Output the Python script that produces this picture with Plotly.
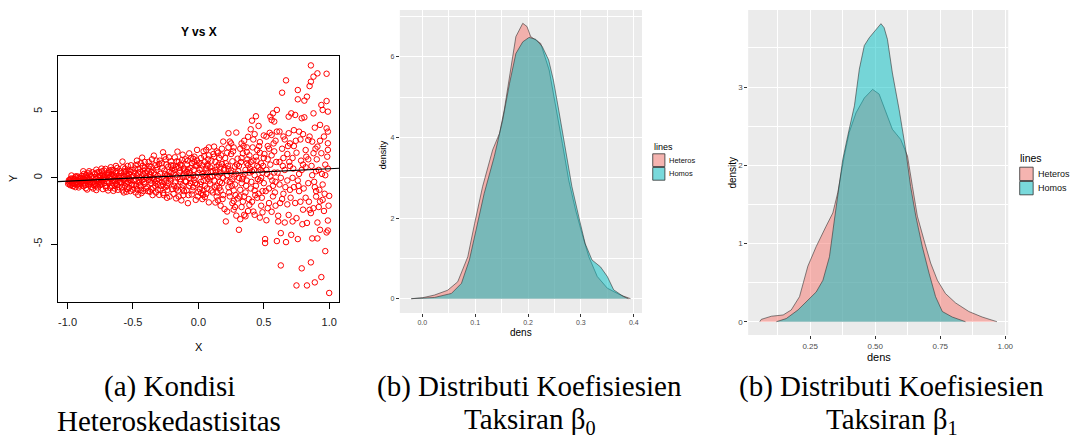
import plotly.graph_objects as go

W, H = 1070, 444

# ---------------- data ----------------
# Panel (a): scatter of Y vs X
xy_points = [
    (-0.99,-0.35),(-0.98,-0.12),(-0.98,-0.55),(-0.97,0.18),(-0.97,-0.28),(-0.96,-0.62),(-0.96,-0.05),(-0.95,-0.40),
    (-0.95,-0.20),(-0.94,0.05),(-0.94,-0.70),(-0.93,-0.33),(-0.93,-0.15),(-0.92,-0.48),(-0.92,0.10),(-0.91,-0.25),
    (-0.91,-0.58),(-0.90,-0.02),(-0.90,-0.38),(-0.99,-0.18),(-0.96,-0.45),(-0.93,-0.52),(-0.91,0.02),(-0.95,-0.08),
    (-0.89,-0.30),(-0.89,0.15),(-0.88,-0.62),(-0.88,0.50),(-0.87,-0.10),(-0.87,-0.42),(-0.86,0.22),(-0.86,-0.78),
    (-0.85,-0.25),(-0.85,0.05),(-0.84,-0.50),(-0.84,0.35),(-0.83,-0.15),(-0.83,-0.35),(-0.82,0.12),(-0.82,-0.68),
    (-0.81,-0.05),(-0.81,0.42),(-0.80,-0.28),(-0.80,-0.55),(-0.88,-0.05),(-0.85,-0.88),(-0.83,0.25),(-0.86,-0.20),
    (-0.81,-0.40),
    (-0.79,0.30),(-0.79,-0.45),(-0.78,-0.10),(-0.78,0.62),(-0.77,-0.72),(-0.77,0.10),(-0.76,-0.30),(-0.76,0.45),
    (-0.75,-0.55),(-0.75,0.00),(-0.74,0.70),(-0.74,-0.20),(-0.73,-0.85),(-0.73,0.25),(-0.72,-0.40),(-0.72,0.55),
    (-0.71,-0.05),(-0.71,-0.62),(-0.70,0.35),(-0.70,-0.25),(-0.78,-0.92),(-0.75,0.20),(-0.72,0.05),(-0.76,-0.15),
    (-0.71,0.68),(-0.74,-0.48),
    (-0.69,-0.95),(-0.69,0.20),(-0.68,0.55),(-0.68,-0.35),(-0.67,-0.10),(-0.67,0.80),(-0.66,-0.60),(-0.66,0.30),
    (-0.65,-0.20),(-0.65,0.60),(-0.64,-0.80),(-0.64,0.05),(-0.63,0.40),(-0.63,-0.45),(-0.62,-0.05),(-0.62,0.75),
    (-0.61,-0.70),(-0.61,0.15),(-0.60,-0.30),(-0.60,0.50),(-0.68,0.00),(-0.65,-0.98),(-0.63,0.90),(-0.61,-0.15),
    (-0.66,0.10),(-0.62,-0.52),
    (-0.58,1.23),(-0.59,-0.40),(-0.59,0.35),(-0.58,-0.95),(-0.57,0.10),(-0.57,-0.15),(-0.56,0.70),(-0.56,-0.60),
    (-0.55,0.25),(-0.55,-1.05),(-0.54,-0.30),(-0.54,0.90),(-0.53,0.00),(-0.53,-0.75),(-0.52,0.45),(-0.52,-0.20),
    (-0.51,-0.50),(-0.51,0.60),(-0.50,0.15),(-0.50,-0.90),(-0.57,0.50),(-0.55,-0.40),(-0.53,0.30),(-0.52,-1.00),
    (-0.56,-0.05),(-0.51,0.05),
    (-0.49,0.40),(-0.49,-0.55),(-0.48,0.95),(-0.48,-0.10),(-0.47,-0.85),(-0.47,0.20),(-0.46,-1.28),(-0.46,0.65),
    (-0.45,-0.35),(-0.45,0.05),(-0.44,1.10),(-0.44,-0.65),(-0.43,-0.20),(-0.43,1.53),(-0.42,0.30),(-0.42,-1.00),
    (-0.41,0.75),(-0.41,-0.45),(-0.40,0.10),(-0.40,-0.80),(-0.48,-1.10),(-0.46,0.35),(-0.44,-0.05),(-0.42,0.55),
    (-0.45,-0.60),(-0.41,1.20),
    (-0.39,0.50),(-0.39,-0.70),(-0.38,-0.15),(-0.38,1.20),(-0.37,-1.05),(-0.37,0.25),(-0.36,0.85),(-0.36,-0.40),
    (-0.35,0.00),(-0.35,-1.30),(-0.34,1.68),(-0.34,0.40),(-0.33,-0.60),(-0.33,0.95),(-0.32,-0.20),(-0.32,0.60),
    (-0.31,-0.90),(-0.31,0.15),(-0.30,-1.28),(-0.30,1.05),(-0.38,0.70),(-0.36,-0.85),(-0.34,-0.10),(-0.32,1.30),
    (-0.37,0.05),(-0.31,-0.45),
    (-0.29,0.30),(-0.29,-0.90),(-0.28,1.10),(-0.28,-0.30),(-0.27,1.93),(-0.27,-1.15),(-0.26,0.55),(-0.26,-0.05),
    (-0.25,-0.70),(-0.25,1.40),(-0.24,0.20),(-0.24,-1.50),(-0.23,0.85),(-0.23,-0.40),(-0.22,-1.41),(-0.22,0.45),
    (-0.21,1.25),(-0.21,-0.20),(-0.20,-0.85),(-0.20,0.70),(-0.28,0.00),(-0.26,1.60),(-0.24,-0.60),(-0.22,0.10),
    (-0.27,-0.50),(-0.21,0.95),
    (-0.19,0.35),(-0.19,-1.20),(-0.18,1.55),(-0.18,-0.35),(-0.17,0.80),(-0.17,-0.80),(-0.16,1.98),(-0.16,0.05),
    (-0.15,-1.41),(-0.15,1.20),(-0.14,-0.10),(-0.14,0.55),(-0.13,-1.70),(-0.13,0.95),(-0.12,-0.55),(-0.12,1.75),
    (-0.11,0.25),(-0.11,-1.00),(-0.10,1.40),(-0.10,-0.25),(-0.18,0.60),(-0.16,-0.65),(-0.14,1.00),(-0.12,0.10),
    (-0.17,-1.55),(-0.11,0.70),
    (-0.09,0.45),(-0.09,-0.95),(-0.08,1.30),(-0.08,-1.91),(-0.07,0.00),(-0.07,1.85),(-0.06,-0.40),(-0.06,0.75),
    (-0.05,-1.25),(-0.05,1.10),(-0.04,0.20),(-0.04,-0.70),(-0.03,1.60),(-0.03,-0.15),(-0.02,-1.66),(-0.02,0.90),
    (-0.01,2.11),(-0.01,-0.50),(0.00,0.35),(0.00,-1.05),(-0.08,0.65),(-0.06,-0.10),(-0.04,1.45),(-0.02,0.10),
    (-0.07,-0.60),(-0.01,1.30),
    (0.01,0.60),(0.01,-0.85),(0.02,1.50),(0.02,-0.30),(0.03,-1.60),(0.03,0.95),(0.04,0.15),(0.04,2.00),
    (0.05,-0.60),(0.05,1.20),(0.06,2.11),(0.06,-1.20),(0.07,0.40),(0.07,-0.05),(0.08,1.70),(0.08,-1.85),
    (0.09,0.80),(0.09,-0.45),(0.10,1.30),(0.10,-0.95),(0.03,0.30),(0.05,-1.45),(0.07,1.00),(0.09,0.05),
    (0.02,-1.15),(0.08,2.30),(0.04,-0.20),(0.06,0.70),
    (0.11,0.50),(0.11,-1.10),(0.12,2.36),(0.12,-0.20),(0.13,-1.86),(0.13,1.20),(0.14,-1.41),(0.14,0.85),
    (0.15,0.10),(0.15,1.90),(0.16,-0.75),(0.16,1.50),(0.17,-2.10),(0.17,0.35),(0.18,2.20),(0.18,-0.40),
    (0.19,2.74),(0.19,-1.30),(0.20,0.70),(0.20,-2.36),(0.12,1.60),(0.14,-0.60),(0.16,0.25),(0.18,1.05),
    (0.15,-1.70),(0.19,0.00),(0.13,0.60),(0.17,-0.95),
    (0.21,-3.29),(0.21,1.10),(0.22,-2.54),(0.22,0.20),(0.23,3.37),(0.23,-0.70),(0.24,2.74),(0.24,-1.40),
    (0.25,0.55),(0.25,1.80),(0.26,-1.91),(0.26,-0.10),(0.27,2.30),(0.27,-0.95),(0.28,0.85),(0.28,-2.20),
    (0.29,3.42),(0.29,0.30),(0.30,-1.55),(0.30,1.45),(0.22,1.90),(0.24,-0.30),(0.26,1.25),(0.28,-0.50),
    (0.23,0.65),(0.27,-1.75),(0.25,2.60),(0.29,-2.85),
    (0.31,-3.92),(0.31,0.90),(0.32,-3.12),(0.32,2.20),(0.33,-0.40),(0.33,1.50),(0.34,0.10),(0.34,-1.80),
    (0.35,-2.79),(0.35,2.80),(0.36,0.60),(0.36,-1.10),(0.37,1.95),(0.37,-0.20),(0.38,-2.50),(0.38,3.10),
    (0.39,-2.04),(0.39,0.40),(0.40,3.67),(0.40,-0.80),(0.33,2.60),(0.35,-1.40),(0.37,1.10),(0.39,1.70),
    (0.32,-0.90),(0.36,-2.90),(0.38,0.95),(0.34,1.85),(0.40,1.20),(0.31,0.00),
    (0.41,4.32),(0.41,0.50),(0.42,-2.54),(0.42,1.30),(0.43,-2.79),(0.43,0.20),(0.44,4.65),(0.44,-0.60),
    (0.45,2.10),(0.45,-1.50),(0.46,3.92),(0.46,0.80),(0.47,-0.20),(0.47,2.70),(0.48,-2.10),(0.48,1.10),
    (0.49,0.40),(0.49,-1.00),(0.50,3.20),(0.50,-0.40),(0.42,2.90),(0.44,1.60),(0.46,-1.20),(0.48,0.00),
    (0.43,-0.95),(0.45,0.90),(0.47,1.90),(0.49,-2.60),(0.41,-1.80),(0.50,1.50),
    (0.51,-4.62),(0.51,-4.92),(0.52,3.12),(0.52,0.60),(0.53,-2.29),(0.53,1.40),(0.54,-0.80),(0.55,4.62),
    (0.55,0.10),(0.56,4.37),(0.56,3.24),(0.56,-2.56),(0.57,4.87),(0.57,-1.40),(0.58,4.25),(0.58,2.00),
    (0.59,-0.30),(0.60,3.49),(0.60,5.13),(0.60,-4.77),(0.53,2.40),(0.54,-1.90),(0.55,1.00),(0.57,-0.60),
    (0.59,2.80),(0.52,-3.20),(0.58,0.40),(0.54,2.20),(0.59,-2.10),(0.56,1.70),
    (0.61,-3.29),(0.61,-2.86),(0.62,1.20),(0.62,-0.50),(0.63,-6.61),(0.63,-4.17),(0.64,6.43),(0.64,2.20),
    (0.65,3.12),(0.65,-1.20),(0.66,-3.37),(0.66,0.60),(0.67,7.36),(0.67,-4.85),(0.68,1.80),(0.68,-2.00),
    (0.69,3.37),(0.69,4.62),(0.70,-0.90),(0.70,2.60),(0.62,3.50),(0.63,0.00),(0.64,-1.60),(0.66,2.90),
    (0.68,-0.20),(0.69,-2.80),(0.70,0.90),(0.65,1.50),
    (0.71,4.87),(0.71,-4.30),(0.72,-3.29),(0.72,1.50),(0.73,-0.70),(0.73,2.40),(0.74,4.75),(0.75,-8.12),
    (0.75,-3.04),(0.76,6.63),(0.76,5.93),(0.76,-4.62),(0.77,3.49),(0.77,0.30),(0.78,-1.80),(0.79,4.50),
    (0.79,-6.83),(0.80,1.00),(0.80,-2.40),(0.72,0.00),(0.74,-1.90),(0.75,1.90),(0.77,-1.00),(0.78,2.90),
    (0.79,0.60),(0.73,3.60),(0.80,3.30),(0.76,-0.20),
    (0.81,5.83),(0.81,4.57),(0.82,0.80),(0.82,-1.50),(0.83,6.13),(0.83,-8.12),(0.84,2.86),(0.84,-0.40),
    (0.85,6.93),(0.85,3.12),(0.85,-2.41),(0.86,8.49),(0.86,7.26),(0.86,-6.38),(0.86,-2.66),(0.87,2.74),
    (0.87,-4.57),(0.88,7.64),(0.88,-2.29),(0.88,1.86),(0.88,4.87),(0.89,3.79),(0.89,-7.89),(0.90,0.50),
    (0.90,-1.00),(0.82,2.10),(0.84,1.40),(0.87,0.20),(0.89,-0.70),(0.83,-3.40),
    (0.90,-1.41),(0.91,7.89),(0.91,-4.57),(0.91,-3.37),(0.91,2.36),(0.93,4.00),(0.93,-3.92),(0.93,-1.78),
    (0.94,-7.49),(0.94,5.50),(0.94,1.86),(0.95,5.13),(0.95,-1.66),(0.96,3.12),(0.97,-5.53),(0.98,5.80),
    (0.98,3.74),(0.98,-4.12),(0.98,7.86),(0.99,2.11),(0.99,-3.97),(0.99,5.00),(0.99,3.49),(0.99,2.61),
    (0.99,-3.22),(1.00,-8.69),(1.00,-1.36),(0.92,0.60),(0.95,-0.50),(0.97,1.00),(0.96,-2.50),(0.93,2.80),
    (0.97,0.20),(0.92,-2.20),(0.99,0.70),
]
# further points filling the dense central band
xy_points_extra = [
    (-0.995,-0.45),(-0.985,-0.25),(-0.975,-0.05),(-0.965,-0.38),(-0.955,-0.60),(-0.945,-0.15),(-0.935,0.12),
    (-0.925,-0.30),(-0.915,-0.72),(-0.905,-0.10),(-0.97,-0.50),(-0.94,-0.42),
    (-0.895,-0.50),(-0.885,-0.20),(-0.875,0.30),(-0.865,-0.55),(-0.855,-0.05),(-0.845,-0.30),(-0.835,0.50),
    (-0.825,-0.45),(-0.815,0.10),(-0.805,-0.80),(-0.87,0.05),(-0.84,-0.10),
    (-0.795,0.05),(-0.785,-0.60),(-0.775,0.40),(-0.765,-0.45),(-0.755,0.15),(-0.745,-0.35),(-0.735,0.50),
    (-0.725,-0.15),(-0.715,0.20),(-0.705,-0.75),(-0.77,-0.25),(-0.73,0.00),
    (-0.695,-0.30),(-0.685,0.35),(-0.675,-0.75),(-0.665,0.60),(-0.655,-0.40),(-0.645,0.20),(-0.635,-0.25),
    (-0.625,0.50),(-0.615,-0.90),(-0.605,0.00),(-0.67,0.15),(-0.64,-0.55),
    (-0.595,0.10),(-0.585,-0.70),(-0.575,0.80),(-0.565,-0.35),(-0.555,0.45),(-0.545,-0.85),(-0.535,0.60),
    (-0.525,-0.10),(-0.515,0.95),(-0.505,-0.55),(-0.57,-1.10),(-0.54,0.15),
    (-0.495,-0.20),(-0.485,0.70),(-0.475,-0.60),(-0.465,1.00),(-0.455,-0.15),(-0.445,0.45),(-0.435,-1.15),
    (-0.425,0.90),(-0.415,-0.30),(-0.405,0.35),(-0.47,1.30),(-0.44,-0.90),
    (-0.395,0.00),(-0.385,-1.00),(-0.375,0.90),(-0.365,-0.20),(-0.355,1.40),(-0.345,-0.75),(-0.335,0.25),
    (-0.325,-1.10),(-0.315,0.80),(-0.305,-0.05),(-0.36,0.45),(-0.33,-0.35),
    (-0.295,1.30),(-0.285,-0.60),(-0.275,0.75),(-0.265,-1.30),(-0.255,0.30),(-0.245,1.00),(-0.235,-0.90),
    (-0.225,1.55),(-0.215,-0.05),(-0.205,0.40),(-0.26,-0.25),(-0.23,0.15),
    (-0.195,0.90),(-0.185,-0.60),(-0.175,0.20),(-0.165,1.25),(-0.155,-0.95),(-0.145,0.40),(-0.135,-0.30),
    (-0.125,1.35),(-0.115,-1.30),(-0.105,0.55),(-0.15,0.75),(-0.12,-0.80),
    (-0.095,-0.30),(-0.085,1.00),(-0.075,-1.30),(-0.065,0.40),(-0.055,1.50),(-0.045,-0.95),(-0.035,0.60),
    (-0.025,-0.40),(-0.015,1.00),(-0.005,-1.40),(-0.06,0.20),(-0.03,1.20),
    (0.005,1.10),(0.015,-0.50),(0.025,0.70),(0.035,-1.30),(0.045,1.65),(0.055,0.20),(0.065,-0.80),
    (0.075,1.40),(0.085,-0.20),(0.095,0.50),(0.04,-0.95),(0.07,0.90),
    (0.105,0.10),(0.115,1.80),(0.125,-0.70),(0.135,0.40),(0.145,-1.10),(0.155,1.00),(0.165,-0.30),
    (0.175,1.70),(0.185,-1.60),(0.195,0.60),(0.14,2.00),(0.17,0.80),
    (0.205,1.50),(0.215,-0.20),(0.225,0.90),(0.235,-1.10),(0.245,0.40),(0.255,-0.60),(0.265,2.00),
    (0.275,0.10),(0.285,-1.30),(0.295,1.00),(0.23,2.30),(0.27,-2.40),
    (0.305,0.50),(0.315,-1.40),(0.325,1.20),(0.335,-0.10),(0.345,2.40),(0.355,0.30),(0.365,-0.60),
    (0.375,1.40),(0.385,-1.60),(0.395,0.70),(0.33,-2.20),(0.37,2.30),
    (0.405,-0.30),(0.415,2.30),(0.425,0.60),(0.435,-1.30),(0.445,1.30),(0.455,-0.10),(0.465,2.40),
    (0.475,0.60),(0.485,-1.50),(0.495,0.90),(0.43,3.30),(0.47,-3.00),
    (0.505,1.80),(0.515,-1.00),(0.525,0.30),(0.545,3.40),(0.565,-0.20),(0.575,2.60),(0.585,-1.10),(0.595,1.20),
    (0.605,0.40),(0.625,-1.90),(0.645,0.90),(0.665,-0.70),(0.685,2.40),(0.695,1.20),
    (0.705,-1.50),(0.725,0.70),(0.745,2.80),(0.765,-0.60),(0.785,1.30),(0.795,-3.50),
    (0.805,-0.80),(0.825,1.60),(0.845,-1.80),(0.865,0.90),(0.885,-0.30),(0.895,2.20),
    (0.905,1.40),(0.925,-0.90),(0.945,0.30),(0.965,-1.20),(0.985,1.60),(0.995,-2.10),
]
scatter_x = [p[0] for p in xy_points + xy_points_extra]
scatter_y = [p[1] for p in xy_points + xy_points_extra]
fit_intercept = 0.22
fit_slope = 0.47

x1_ticks = [-1.0, -0.5, 0.0, 0.5, 1.0]
x1_ticktext = ["-1.0", "-0.5", "0.0", "0.5", "1.0"]
y1_ticks = [-5, 0, 5]
y1_ticktext = ["-5", "0", "5"]

# Panel (b): density of beta0 estimates
b0_het_x = [-0.021, 0.001, 0.023, 0.048, 0.067, 0.086, 0.099, 0.114, 0.133, 0.146, 0.155, 0.168, 0.177, 0.190,
            0.198, 0.205, 0.224, 0.240, 0.252, 0.265, 0.277, 0.290, 0.302, 0.315, 0.331, 0.350, 0.375, 0.394]
b0_het_y = [0, 0.025, 0.09, 0.21, 0.42, 1.04, 1.87, 2.78, 3.69, 4.10, 4.68, 5.75, 6.50, 6.83,
            6.75, 6.50, 6.33, 5.67, 4.84, 3.85, 2.94, 2.20, 1.62, 1.04, 0.55, 0.26, 0.09, 0.0]
b0_hom_x = [-0.021, 0.023, 0.055, 0.074, 0.089, 0.102, 0.117, 0.136, 0.152, 0.165, 0.177, 0.190, 0.202, 0.215,
            0.227, 0.239, 0.248, 0.258, 0.271, 0.283, 0.296, 0.308, 0.321, 0.337, 0.350, 0.362, 0.381, 0.390]
b0_hom_y = [0, 0.03, 0.13, 0.38, 0.96, 1.70, 2.61, 3.52, 4.43, 5.34, 6.08, 6.37, 6.48, 6.43,
            6.25, 5.92, 5.42, 4.68, 3.69, 2.78, 2.03, 1.37, 0.96, 0.79, 0.55, 0.22, 0.05, 0]

# Panel (c): density of beta1 estimates
b1_het_x = [0.056, 0.062, 0.101, 0.146, 0.177, 0.209, 0.241, 0.273, 0.311, 0.337, 0.356, 0.381, 0.400, 0.426,
            0.458, 0.490, 0.515, 0.541, 0.566, 0.598, 0.624, 0.643, 0.662, 0.687, 0.713, 0.739, 0.770, 0.809,
            0.860, 0.911, 0.968]
b1_het_y = [0, 0.03, 0.07, 0.086, 0.15, 0.32, 0.71, 0.96, 1.22, 1.39, 1.65, 2.12, 2.42, 2.67,
            2.86, 2.97, 2.91, 2.67, 2.46, 2.33, 2.12, 1.73, 1.35, 1.05, 0.75, 0.53, 0.36, 0.24,
            0.13, 0.06, 0.0]
b1_hom_x = [0.120, 0.158, 0.203, 0.241, 0.273, 0.299, 0.324, 0.343, 0.360, 0.375, 0.394, 0.420, 0.439, 0.458,
            0.477, 0.503, 0.522, 0.534, 0.547, 0.566, 0.592, 0.617, 0.636, 0.656, 0.681, 0.707, 0.732, 0.758,
            0.796, 0.847]
b1_hom_y = [0, 0.04, 0.15, 0.28, 0.38, 0.53, 0.83, 1.30, 1.73, 2.07, 2.37, 2.76, 3.23, 3.53,
            3.63, 3.74, 3.81, 3.76, 3.61, 3.18, 2.71, 2.20, 1.73, 1.35, 0.96, 0.62, 0.32, 0.13,
            0.06, 0]

legend_title = "lines"
legend_labels = ["Heteros", "Homos"]
captions = [
    ["(a) Kondisi", "Heteroskedastisitas"],
    ["(b) Distributi Koefisiesien", "Taksiran β<sub>0</sub>"],
    ["(b) Distributi Koefisiesien", "Taksiran β<sub>1</sub>"],
]

# ---------------- styling / layout ----------------
RED_FILL = "rgba(248,118,109,0.5)"
TEAL_FILL = "rgba(0,191,196,0.5)"
OUTLINE = "rgba(51,51,51,0.85)"
PANEL_BG = "#EBEBEB"
SANS = "Liberation Sans, Arial, sans-serif"
SERIF = "Liberation Serif, Times New Roman, serif"


def fx(px):
    return px / W


def fy(py):
    return 1 - py / H


x1_range = [-1.075, 1.078]
y1_range = [-9.37, 9.2]

fig = go.Figure()

fig.add_trace(go.Scatter(
    x=scatter_x, y=scatter_y, mode="markers", xaxis="x", yaxis="y",
    marker=dict(symbol="circle-open", size=5.5, color="#FF0000", line=dict(width=1, color="#FF0000")),
    showlegend=False, hoverinfo="skip"))
fig.add_trace(go.Scatter(
    x=x1_range, y=[fit_intercept + fit_slope * v for v in x1_range], mode="lines",
    xaxis="x", yaxis="y", line=dict(color="black", width=1.2), showlegend=False, hoverinfo="skip"))

for xs, ys, fc, ax, ay in [
    (b0_het_x, b0_het_y, RED_FILL, "x2", "y2"),
    (b0_hom_x, b0_hom_y, TEAL_FILL, "x2", "y2"),
    (b1_het_x, b1_het_y, RED_FILL, "x3", "y3"),
    (b1_hom_x, b1_hom_y, TEAL_FILL, "x3", "y3"),
]:
    fig.add_trace(go.Scatter(
        x=xs, y=ys, mode="lines", fill="toself", fillcolor=fc, xaxis=ax, yaxis=ay,
        line=dict(color=OUTLINE, width=0.7), showlegend=False, hoverinfo="skip"))

gg_common = dict(showgrid=True, gridcolor="white", gridwidth=1.1, zeroline=False,
                 ticks="outside", ticklen=3, tickwidth=1, tickcolor="#333333",
                 showline=False)

fig.update_layout(
    width=W, height=H, margin=dict(l=0, r=0, t=0, b=0),
    paper_bgcolor="white", plot_bgcolor="white",
    xaxis=dict(domain=[fx(58), fx(341)], range=x1_range, anchor="y",
               tickvals=x1_ticks, ticktext=x1_ticktext, ticks="outside", ticklen=6,
               tickcolor="black", showline=True, linecolor="black", linewidth=1, mirror=True,
               showgrid=False, zeroline=False, tickfont=dict(family=SANS, size=11, color="#222"),
               ticklabelstandoff=4),
    yaxis=dict(domain=[fy(302), fy(56)], range=y1_range, anchor="x",
               tickvals=y1_ticks, ticktext=y1_ticktext, ticks="outside", ticklen=6,
               tickcolor="black", showline=True, linecolor="black", linewidth=1, mirror=True,
               showgrid=False, zeroline=False, tickangle=-90,
               tickfont=dict(family=SANS, size=11, color="#222"), ticklabelstandoff=4),
    xaxis2=dict(domain=[fx(401.7), fx(645)], range=[-0.0426, 0.4156], anchor="y2",
                tick0=0, dtick=0.1, tickformat=".1f",
                minor=dict(tick0=0, dtick=0.05, showgrid=True, gridcolor="white", gridwidth=0.5),
                tickfont=dict(family=SANS, size=7, color="#4D4D4D"), **gg_common),
    yaxis2=dict(domain=[fy(313), fy(10)], range=[-0.355, 7.16], anchor="x2",
                tick0=0, dtick=2,
                minor=dict(tick0=0, dtick=1, showgrid=True, gridcolor="white", gridwidth=0.5),
                tickfont=dict(family=SANS, size=7, color="#4D4D4D"), **gg_common),
    xaxis3=dict(domain=[fx(751.7), fx(1013)], range=[0.0116, 1.0115], anchor="y3",
                tick0=0, dtick=0.25, tickformat=".2f",
                minor=dict(tick0=0, dtick=0.125, showgrid=True, gridcolor="white", gridwidth=0.5),
                tickfont=dict(family=SANS, size=8, color="#4D4D4D"), **gg_common),
    yaxis3=dict(domain=[fy(335), fy(10)], range=[-0.17, 3.985], anchor="x3",
                tick0=0, dtick=1,
                minor=dict(tick0=0, dtick=0.5, showgrid=True, gridcolor="white", gridwidth=0.5),
                tickfont=dict(family=SANS, size=8, color="#4D4D4D"), **gg_common),
)

shapes = []
# ggplot panel backgrounds
for ax in ["x2", "x3"]:
    ay = ax.replace("x", "y")
    shapes.append(dict(type="rect", xref=f"{ax} domain", yref=f"{ay} domain",
                       x0=0, x1=1, y0=0, y1=1, fillcolor=PANEL_BG, line=dict(width=0), layer="below"))

annotations = []


def ann(text, x, y, size, family=SANS, color="#000", angle=0, bold=False, xanchor="center"):
    if bold:
        text = f"<b>{text}</b>"
    annotations.append(dict(text=text, x=fx(x), y=fy(y), xref="paper", yref="paper",
                            showarrow=False, xanchor=xanchor, yanchor="middle", textangle=angle,
                            font=dict(family=family, size=size, color=color)))


# Panel (a) texts
ann("Y vs X", 200, 32, 12, bold=True)
ann("X", 200, 347, 11)
ann("Y", 13, 178, 11, angle=-90)

# Panel (b) texts
ann("dens", 523, 332, 10)
ann("density", 385, 155, 9, angle=-90)
# Panel (c) texts
ann("dens", 883, 356.5, 11)
ann("density", 735, 173, 10, angle=-90)


def legend(x_title, y_title, kx0, kx1, ky, kh, label_x, title_size, label_size):
    ann(legend_title, x_title, y_title, title_size, xanchor="left")
    for i, (lab, fc) in enumerate(zip(legend_labels, [RED_FILL, TEAL_FILL])):
        y0 = ky + i * kh
        y1 = y0 + kh
        shapes.append(dict(type="rect", xref="paper", yref="paper", x0=fx(kx0), x1=fx(kx1),
                           y0=fy(y1), y1=fy(y0), fillcolor="#F2F2F2", line=dict(width=0)))
        shapes.append(dict(type="rect", xref="paper", yref="paper", x0=fx(kx0 + 0.5), x1=fx(kx1 - 0.5),
                           y0=fy(y1 - 0.5), y1=fy(y0 + 0.5), fillcolor=fc,
                           line=dict(width=0.8, color="#333333")))
        ann(lab, label_x, (y0 + y1) / 2, label_size, xanchor="left", color="#111")


legend(655.5, 147, 655.3, 668.5, 153.3, 13.7, 670, 9, 7.5)
legend(1023, 158, 1024, 1038.5, 166.7, 14.3, 1040.5, 10.5, 9)

# Captions under each panel
cap_centers = [170, 532, 896]
for cx, (l1, l2) in zip(cap_centers, captions):
    ann(l1, cx, 386, 29, family=SERIF)
    ann(l2, cx, 421, 29, family=SERIF)

fig.update_layout(shapes=shapes, annotations=annotations)
fig.write_html("out.html", config={"displayModeBar": False},
               post_script="document.body.style.margin='0px';document.body.style.overflow='hidden';")
